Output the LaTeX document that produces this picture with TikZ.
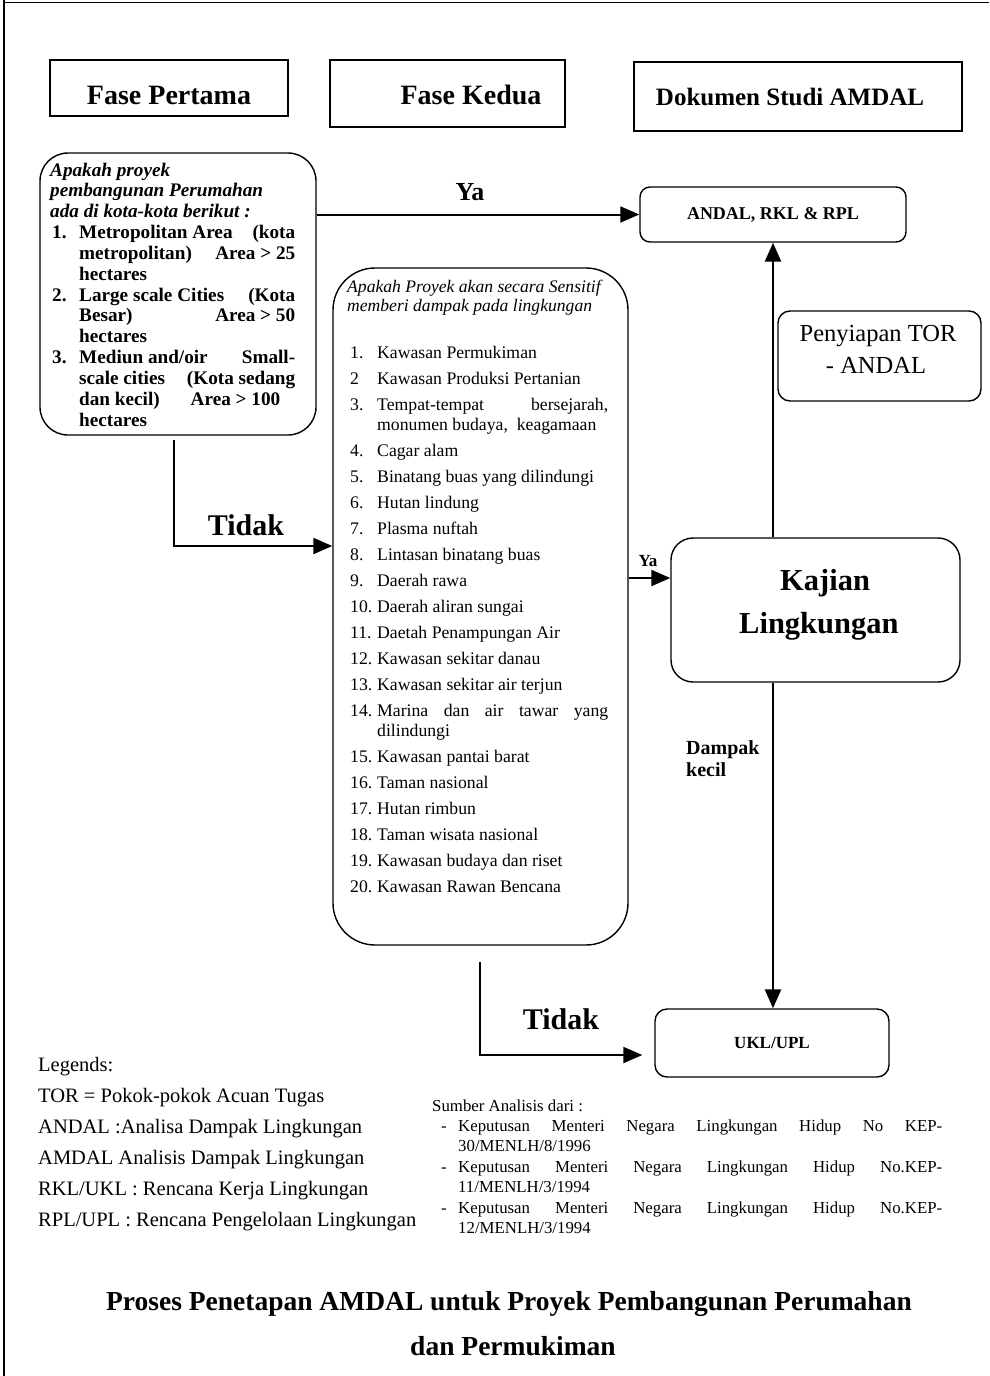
\documentclass[tikz,border=0pt]{standalone}
\usepackage{fontspec}
\setmainfont{Liberation Serif}
\usetikzlibrary{arrows.meta,calc}
\newcommand\setfs[1]{\fontsize{#1pt}{#1pt}\selectfont}
% a line of text spread to a fixed width (justified)
\newcommand\jline[2]{\makebox[#1pt][s]{#2}}

\begin{document}
\begin{tikzpicture}[x=1pt,y=-1pt,
  frame/.style={draw,line width=1.4pt,inner sep=0pt},
  rbox/.style={draw,line width=1.4pt,inner sep=0pt,rounded corners=#1},
  conn/.style={line width=2pt,-{Triangle[length=19pt,width=16pt]}},
  txt/.style={inner sep=0pt},
  bl/.style={anchor=base west,inner sep=0pt},
  head/.style={txt,font=\bfseries\setfs{28}},
  big/.style={txt,font=\bfseries\setfs{30}},
  lb/.style={bl,font=\bfseries\setfs{19.2}},
  lbi/.style={bl,font=\bfseries\itshape\setfs{19.2}},
  mb/.style={bl,font=\setfs{17.7}},
  mbi/.style={bl,font=\itshape\setfs{17.6}},
  lg/.style={bl,font=\setfs{20.5}},
  sr/.style={bl,font=\setfs{16.8}},
]
\useasboundingbox (0,0) rectangle (989,1376);

% page rules
\draw[line width=2pt] (4,0) -- (4,1376);
\draw[line width=0.8pt] (4,2) -- (989,2);

% column headings
\node[frame,minimum width=238pt,minimum height=56pt] (f1) at (169,88) {};
\node[frame,minimum width=235pt,minimum height=67pt] (f2) at (447.5,93.5) {};
\node[frame,minimum width=328pt,minimum height=69pt] (f3) at (798,96.5) {};
\node[head] (f1t) at (169,95) {Fase Pertama};
\node[head] (f2t) at (471,95) {Fase Kedua};
\node[head,font=\bfseries\setfs{25}] (f3t) at (790,97) {Dokumen Studi AMDAL};

% phase one question
\node[rbox=28pt,minimum width=276pt,minimum height=282pt] (q1) at (178,294) {};
\node[lbi] (q1a) at (50,176) {Apakah proyek};
\node[lbi] (q1b) at (50,196.8) {pembangunan Perumahan};
\node[lbi] (q1c) at (50,217.7) {ada di kota-kota berikut :};
\node[lb] (q1n1) at (52,238.5) {1.};
\node[lb] (q1l1) at (79,238.5) {\jline{216}{Metropolitan Area\hfill(kota}};
\node[lb] (q1l2) at (79,259.3) {\jline{216}{metropolitan)\hfill Area > 25}};
\node[lb] (q1l3) at (79,280.2) {hectares};
\node[lb] (q1n2) at (52,301) {2.};
\node[lb] (q1l4) at (79,301) {\jline{216}{Large scale Cities\hfill(Kota}};
\node[lb] (q1l5) at (79,321.8) {\jline{216}{Besar)\hfill Area > 50}};
\node[lb] (q1l6) at (79,342.7) {hectares};
\node[lb] (q1n3) at (52,363.5) {3.};
\node[lb] (q1l7) at (79,363.5) {\jline{216}{Mediun and/oir\hfill Small-}};
\node[lb] (q1l8) at (79,384.3) {\jline{216}{scale cities\hfill(Kota sedang}};
\node[lb] (q1l9) at (79,405.2) {\jline{201}{dan kecil)\hfill Area > 100}};
\node[lb] (q1l10) at (79,426) {hectares};

% phase two question
\node[rbox=42pt,minimum width=295pt,minimum height=677pt] (q2) at (480.5,606.5) {};
\node[mbi] (q2a) at (347,292) {Apakah Proyek akan secara Sensitif};
\node[mbi] (q2b) at (347,311) {memberi dampak pada lingkungan};
\node[mb] (n1) at (350,358.5) {1.};   \node[mb] (i1) at (377,358.5) {Kawasan Permukiman};
\node[mb] (n2) at (350,384.5) {2};    \node[mb] (i2) at (377,384.5) {Kawasan Produksi Pertanian};
\node[mb] (n3) at (350,410.5) {3.};   \node[mb] (i3) at (377,410.5) {\jline{231}{Tempat-tempat bersejarah,}};
\node[mb] (i3b) at (377,430.5) {monumen budaya,\ \ keagamaan};
\node[mb] (n4) at (350,456.5) {4.};   \node[mb] (i4) at (377,456.5) {Cagar alam};
\node[mb] (n5) at (350,482.5) {5.};   \node[mb] (i5) at (377,482.5) {Binatang buas yang dilindungi};
\node[mb] (n6) at (350,508.5) {6.};   \node[mb] (i6) at (377,508.5) {Hutan lindung};
\node[mb] (n7) at (350,534.5) {7.};   \node[mb] (i7) at (377,534.5) {Plasma nuftah};
\node[mb] (n8) at (350,560.5) {8.};   \node[mb] (i8) at (377,560.5) {Lintasan binatang buas};
\node[mb] (n9) at (350,586.5) {9.};   \node[mb] (i9) at (377,586.5) {Daerah rawa};
\node[mb] (n10) at (350,612.5) {10.}; \node[mb] (i10) at (377,612.5) {Daerah aliran sungai};
\node[mb] (n11) at (350,638.5) {11.}; \node[mb] (i11) at (377,638.5) {Daetah Penampungan Air};
\node[mb] (n12) at (350,664.5) {12.}; \node[mb] (i12) at (377,664.5) {Kawasan sekitar danau};
\node[mb] (n13) at (350,690.5) {13.}; \node[mb] (i13) at (377,690.5) {Kawasan sekitar air terjun};
\node[mb] (n14) at (350,716.5) {14.}; \node[mb] (i14) at (377,716.5) {\jline{231}{Marina dan air tawar yang}};
\node[mb] (i14b) at (377,736.5) {dilindungi};
\node[mb] (n15) at (350,762.5) {15.}; \node[mb] (i15) at (377,762.5) {Kawasan pantai barat};
\node[mb] (n16) at (350,788.5) {16.}; \node[mb] (i16) at (377,788.5) {Taman nasional};
\node[mb] (n17) at (350,814.5) {17.}; \node[mb] (i17) at (377,814.5) {Hutan rimbun};
\node[mb] (n18) at (350,840.5) {18.}; \node[mb] (i18) at (377,840.5) {Taman wisata nasional};
\node[mb] (n19) at (350,866.5) {19.}; \node[mb] (i19) at (377,866.5) {Kawasan budaya dan riset};
\node[mb] (n20) at (350,892.5) {20.}; \node[mb] (i20) at (377,892.5) {Kawasan Rawan Bencana};

% study documents
\node[rbox=10pt,minimum width=266pt,minimum height=55pt,font=\bfseries\setfs{18}] (andal) at (773,214.5) {ANDAL, RKL \& RPL};
\node[rbox=12pt,minimum width=203pt,minimum height=90pt] (tor) at (879.5,356) {};
\node[txt,font=\setfs{24.5}] (tor1) at (878,336) {Penyiapan TOR};
\node[txt,font=\setfs{24.5}] (tor2) at (876,365) {- ANDAL};
\node[rbox=22pt,minimum width=289pt,minimum height=144pt] (kaj) at (815.5,610) {};
\node[bl,font=\bfseries\setfs{30.5}] (kaj1) at (780,590) {Kajian};
\node[bl,font=\bfseries\setfs{30.5}] (kaj2) at (739,633) {Lingkungan};
\node[rbox=12pt,minimum width=234pt,minimum height=68pt,font=\bfseries\setfs{17}] (ukl) at (772,1043) {UKL/UPL};

% connectors
\coordinate (td1) at (174,440);
\coordinate (td2) at (480,962);
\draw[conn] (q1.east |- andal.west) -- (andal.west);
\draw[conn] (td1) |- (q2.west |- 0,546);
\draw[conn] (q2.east |- 0,578) -- (kaj.west |- 0,578);
\draw[conn,line width=2.6pt] (kaj.north -| andal.south) -- (andal.south);
\draw[conn,line width=2.6pt] (kaj.south -| andal.south) -- (ukl.north -| andal.south);
\draw[conn,shorten >=12pt] (td2) |- (ukl.west |- 0,1055);

% connector labels
\node[txt,font=\bfseries\setfs{26}] (ya1) at (470,192) {Ya};
\node[big] (tidak1) at (246,525) {Tidak};
\node[txt,font=\bfseries\setfs{17}] (ya2) at (648,561) {Ya};
\node[bl,font=\bfseries\setfs{20}] (dk1) at (686,754) {Dampak};
\node[bl,font=\bfseries\setfs{20}] (dk2) at (686,776) {kecil};
\node[big] (tidak2) at (561,1019) {Tidak};

% legend
\node[lg] (lg0) at (38,1071) {Legends:};
\node[lg] (lg1) at (38,1102) {TOR = Pokok-pokok Acuan Tugas};
\node[lg] (lg2) at (38,1133) {ANDAL :Analisa Dampak Lingkungan};
\node[lg] (lg3) at (38,1164) {AMDAL Analisis Dampak Lingkungan};
\node[lg] (lg4) at (38,1195) {RKL/UKL : Rencana Kerja Lingkungan};
\node[lg] (lg5) at (38,1226) {RPL/UPL : Rencana Pengelolaan Lingkungan};

% sources
\node[sr] (s0) at (432,1111) {Sumber Analisis dari :};
\node[sr] (s1d) at (441,1131) {-};
\node[sr] (s1) at (458,1131) {\jline{484}{Keputusan Menteri Negara Lingkungan Hidup No KEP-}};
\node[sr] (s1b) at (458,1151) {30/MENLH/8/1996};
\node[sr] (s2d) at (441,1172) {-};
\node[sr] (s2) at (458,1172) {\jline{484}{Keputusan Menteri Negara Lingkungan Hidup No.KEP-}};
\node[sr] (s2b) at (458,1192) {11/MENLH/3/1994};
\node[sr] (s3d) at (441,1213) {-};
\node[sr] (s3) at (458,1213) {\jline{484}{Keputusan Menteri Negara Lingkungan Hidup No.KEP-}};
\node[sr] (s3b) at (458,1233) {12/MENLH/3/1994};

% title
\node[txt,font=\bfseries\setfs{27.5}] (ti1) at (509,1304) {Proses Penetapan AMDAL untuk Proyek Pembangunan Perumahan};
\node[txt,font=\bfseries\setfs{27.5}] (ti2) at (513,1346) {dan Permukiman};
\end{tikzpicture}
\end{document}
